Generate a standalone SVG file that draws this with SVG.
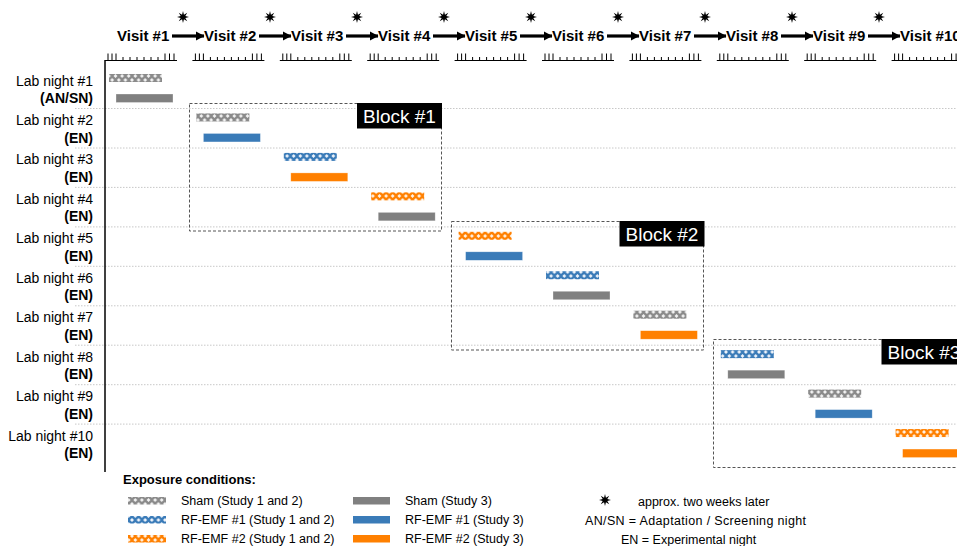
<svg xmlns="http://www.w3.org/2000/svg" xmlns:xlink="http://www.w3.org/1999/xlink" width="957" height="546" viewBox="0 0 957 546">
<style>
text{font-family:"Liberation Sans",Arial,sans-serif;fill:#000}
.visit{font-size:15px;font-weight:bold}
.row{font-size:14px;text-anchor:end}
.rowb{font-size:14px;font-weight:bold;text-anchor:end}
.blk{font-size:19px;fill:#fff;text-anchor:middle}
.leg{font-size:12.5px}
.sep{stroke:#c8c8c8;stroke-width:1;stroke-dasharray:1.5,1.5}
.ruler{stroke:#000;stroke-width:1;fill:none}
.box{fill:none;stroke:#555;stroke-width:1;stroke-dasharray:3,2}
.arrow{stroke:#000;stroke-width:3.2}
.g{fill:#808080}.b{fill:#3a7bb8}.o{fill:#ff8000}
.sb{stroke:#fff;stroke-opacity:.5;stroke-width:.6}
</style>
<defs>
<pattern id="hg" patternUnits="userSpaceOnUse" width="6.6" height="8">
<rect width="6.6" height="8" fill="#8a8a8a"/>
<path d="M3.3,2.1 L5.2,4 L3.3,5.9 L1.4,4Z M0,-1.9 L1.9,0 L0,1.9 L-1.9,0Z M6.6,-1.9 L8.5,0 L6.6,1.9 L4.7,0Z M0,6.1 L1.9,8 L0,9.9 L-1.9,8Z M6.6,6.1 L8.5,8 L6.6,9.9 L4.7,8Z" fill="#f2f2f2"/>
</pattern>
<pattern id="hb" patternUnits="userSpaceOnUse" width="6.6" height="8">
<rect width="6.6" height="8" fill="#3a7bb8"/>
<path d="M3.3,2.1 L5.2,4 L3.3,5.9 L1.4,4Z M0,-1.9 L1.9,0 L0,1.9 L-1.9,0Z M6.6,-1.9 L8.5,0 L6.6,1.9 L4.7,0Z M0,6.1 L1.9,8 L0,9.9 L-1.9,8Z M6.6,6.1 L8.5,8 L6.6,9.9 L4.7,8Z" fill="#eef3fa"/>
</pattern>
<pattern id="ho" patternUnits="userSpaceOnUse" width="6.6" height="8">
<rect width="6.6" height="8" fill="#ff8000"/>
<path d="M3.3,2.1 L5.2,4 L3.3,5.9 L1.4,4Z M0,-1.9 L1.9,0 L0,1.9 L-1.9,0Z M6.6,-1.9 L8.5,0 L6.6,1.9 L4.7,0Z M0,6.1 L1.9,8 L0,9.9 L-1.9,8Z M6.6,6.1 L8.5,8 L6.6,9.9 L4.7,8Z" fill="#fff3e6"/>
</pattern>
<path id="star" d="M6,0 L2.3,0.95 L4.24,4.24 L0.95,2.3 L0,6 L-0.95,2.3 L-4.24,4.24 L-2.3,0.95 L-6,0 L-2.3,-0.95 L-4.24,-4.24 L-0.95,-2.3 L0,-6 L0.95,-2.3 L4.24,-4.24 L2.3,-0.95 Z" fill="#000"/>
<marker id="ah" markerUnits="userSpaceOnUse" markerWidth="10" markerHeight="10" refX="8" refY="5" orient="auto">
<path d="M0,0.5 L8.5,5 L0,9.5 Z" fill="#000"/>
</marker>
<g id="rul">
<path class="ruler" d="M0,0.5 H72 M3,0.5 V-6.5 M7,0.5 V-6.5 M11,0.5 V-6.5 M18,0.5 V-3 M25,0.5 V-3 M32,0.5 V-3 M39,0.5 V-3 M46,0.5 V-3 M53,0.5 V-3 M60,0.5 V-6.5 M64.5,0.5 V-6.5 M69,0.5 V-6.5"/>
</g>
</defs>
<rect width="957" height="546" fill="#fff"/>

<g id="separators">
<line class="sep" x1="75" y1="108.5" x2="957" y2="108.5"/>
<line class="sep" x1="75" y1="148" x2="957" y2="148"/>
<line class="sep" x1="75" y1="187.4" x2="957" y2="187.4"/>
<line class="sep" x1="75" y1="226.9" x2="957" y2="226.9"/>
<line class="sep" x1="75" y1="266.3" x2="957" y2="266.3"/>
<line class="sep" x1="75" y1="305.8" x2="957" y2="305.8"/>
<line class="sep" x1="75" y1="345.2" x2="957" y2="345.2"/>
<line class="sep" x1="75" y1="384.7" x2="957" y2="384.7"/>
<line class="sep" x1="75" y1="424.1" x2="957" y2="424.1"/>
</g>

<g id="axis">
<line x1="105" y1="60" x2="105" y2="472" stroke="#000" stroke-width="1.5"/>
<use xlink:href="#rul" x="105" y="60"/>
<use xlink:href="#rul" x="192.4" y="60"/>
<use xlink:href="#rul" x="279.8" y="60"/>
<use xlink:href="#rul" x="367.2" y="60"/>
<use xlink:href="#rul" x="454.6" y="60"/>
<use xlink:href="#rul" x="542" y="60"/>
<use xlink:href="#rul" x="629.4" y="60"/>
<use xlink:href="#rul" x="716.8" y="60"/>
<use xlink:href="#rul" x="804.2" y="60"/>
<use xlink:href="#rul" x="891.6" y="60"/>
</g>

<g id="visit1"><text class="visit" x="117" y="41">Visit #1</text></g>
<g id="visit2"><text class="visit" x="204" y="41">Visit #2</text></g>
<g id="visit3"><text class="visit" x="291" y="41">Visit #3</text></g>
<g id="visit4"><text class="visit" x="378" y="41">Visit #4</text></g>
<g id="visit5"><text class="visit" x="465" y="41">Visit #5</text></g>
<g id="visit6"><text class="visit" x="552" y="41">Visit #6</text></g>
<g id="visit7"><text class="visit" x="639" y="41">Visit #7</text></g>
<g id="visit8"><text class="visit" x="726" y="41">Visit #8</text></g>
<g id="visit9"><text class="visit" x="813" y="41">Visit #9</text></g>
<g id="visit10"><text class="visit" x="900" y="41">Visit #10</text></g>

<g id="connectors">
<line class="arrow" x1="172" y1="36" x2="204" y2="36" marker-end="url(#ah)"/>
<line class="arrow" x1="259" y1="36" x2="291" y2="36" marker-end="url(#ah)"/>
<line class="arrow" x1="346" y1="36" x2="378" y2="36" marker-end="url(#ah)"/>
<line class="arrow" x1="433" y1="36" x2="465" y2="36" marker-end="url(#ah)"/>
<line class="arrow" x1="520" y1="36" x2="552" y2="36" marker-end="url(#ah)"/>
<line class="arrow" x1="607" y1="36" x2="639" y2="36" marker-end="url(#ah)"/>
<line class="arrow" x1="694" y1="36" x2="726" y2="36" marker-end="url(#ah)"/>
<line class="arrow" x1="781" y1="36" x2="813" y2="36" marker-end="url(#ah)"/>
<line class="arrow" x1="868" y1="36" x2="900" y2="36" marker-end="url(#ah)"/>
<use xlink:href="#star" x="183" y="17"/>
<use xlink:href="#star" x="270" y="17"/>
<use xlink:href="#star" x="357" y="17"/>
<use xlink:href="#star" x="444" y="17"/>
<use xlink:href="#star" x="531" y="17"/>
<use xlink:href="#star" x="618" y="17"/>
<use xlink:href="#star" x="705" y="17"/>
<use xlink:href="#star" x="792" y="17"/>
<use xlink:href="#star" x="879" y="17"/>
</g>

<g id="labels">
<text class="row" x="93" y="85.5">Lab night #1</text><text class="rowb" x="93" y="103">(AN/SN)</text>
<text class="row" x="93" y="125">Lab night #2</text><text class="rowb" x="93" y="142.5">(EN)</text>
<text class="row" x="93" y="164.4">Lab night #3</text><text class="rowb" x="93" y="181.9">(EN)</text>
<text class="row" x="93" y="203.9">Lab night #4</text><text class="rowb" x="93" y="221.4">(EN)</text>
<text class="row" x="93" y="243.3">Lab night #5</text><text class="rowb" x="93" y="260.8">(EN)</text>
<text class="row" x="93" y="282.8">Lab night #6</text><text class="rowb" x="93" y="300.3">(EN)</text>
<text class="row" x="93" y="322.2">Lab night #7</text><text class="rowb" x="93" y="339.7">(EN)</text>
<text class="row" x="93" y="361.7">Lab night #8</text><text class="rowb" x="93" y="379.2">(EN)</text>
<text class="row" x="93" y="401.1">Lab night #9</text><text class="rowb" x="93" y="418.6">(EN)</text>
<text class="row" x="93" y="440.6">Lab night #10</text><text class="rowb" x="93" y="458.1">(EN)</text>
</g>

<g id="block1">
<rect class="box" x="189.5" y="103.5" width="252" height="127.5"/>
<rect x="357" y="103" width="85" height="25.5" fill="#000"/>
<text class="blk" x="399.5" y="123">Block #1</text>
</g>
<g id="block2">
<rect class="box" x="451.5" y="221.5" width="252" height="128.5"/>
<rect x="619.5" y="221" width="85" height="25.5" fill="#000"/>
<text class="blk" x="662" y="241">Block #2</text>
</g>
<g id="block3">
<rect class="box" x="713.5" y="339.5" width="252" height="128"/>
<rect x="881.5" y="339" width="85" height="25.5" fill="#000"/>
<text class="blk" x="924" y="359">Block #3</text>
</g>

<g id="night1"><rect x="109" y="74" width="53" height="8" fill="url(#hg)"/><rect class="g sb" x="116" y="94" width="57" height="8.5"/></g>
<g id="night2"><rect x="196.4" y="113.45" width="53" height="8" fill="url(#hg)"/><rect class="b sb" x="203.4" y="133.45" width="57" height="8.5"/></g>
<g id="night3"><rect x="283.8" y="152.9" width="53" height="8" fill="url(#hb)"/><rect class="o sb" x="290.8" y="172.9" width="57" height="8.5"/></g>
<g id="night4"><rect x="371.2" y="192.35" width="53" height="8" fill="url(#ho)"/><rect class="g sb" x="378.2" y="212.35" width="57" height="8.5"/></g>
<g id="night5"><rect x="458.6" y="231.8" width="53" height="8" fill="url(#ho)"/><rect class="b sb" x="465.6" y="251.8" width="57" height="8.5"/></g>
<g id="night6"><rect x="546" y="271.25" width="53" height="8" fill="url(#hb)"/><rect class="g sb" x="553" y="291.25" width="57" height="8.5"/></g>
<g id="night7"><rect x="633.4" y="310.7" width="53" height="8" fill="url(#hg)"/><rect class="o sb" x="640.4" y="330.7" width="57" height="8.5"/></g>
<g id="night8"><rect x="720.8" y="350.15" width="53" height="8" fill="url(#hb)"/><rect class="g sb" x="727.8" y="370.15" width="57" height="8.5"/></g>
<g id="night9"><rect x="808.2" y="389.6" width="53" height="8" fill="url(#hg)"/><rect class="b sb" x="815.2" y="409.6" width="57" height="8.5"/></g>
<g id="night10"><rect x="895.6" y="429.05" width="53" height="8" fill="url(#ho)"/><rect class="o sb" x="902.6" y="449.05" width="57" height="8.5"/></g>

<g id="legend">
<text x="123" y="484" style="font-size:13px;font-weight:bold">Exposure conditions:</text>
<rect x="128" y="497" width="38" height="7.5" fill="url(#hg)"/>
<rect x="128" y="516" width="38" height="7.5" fill="url(#hb)"/>
<rect x="128" y="535" width="38" height="7.5" fill="url(#ho)"/>
<text class="leg" x="181" y="505">Sham (Study 1 and 2)</text>
<text class="leg" x="181" y="524">RF-EMF #1 (Study 1 and 2)</text>
<text class="leg" x="181" y="543">RF-EMF #2 (Study 1 and 2)</text>
<rect class="g" x="353" y="497" width="37" height="7.5"/>
<rect class="b" x="353" y="516" width="37" height="7.5"/>
<rect class="o" x="353" y="535" width="37" height="7.5"/>
<text class="leg" x="405" y="505">Sham (Study 3)</text>
<text class="leg" x="405" y="524">RF-EMF #1 (Study 3)</text>
<text class="leg" x="405" y="543">RF-EMF #2 (Study 3)</text>
<use xlink:href="#star" x="605" y="500"/>
<text class="leg" x="638" y="506">approx. two weeks later</text>
<text class="leg" x="585" y="525" textLength="221" lengthAdjust="spacing">AN/SN = Adaptation / Screening night</text>
<text class="leg" x="621" y="544">EN = Experimental night</text>
</g>
</svg>
